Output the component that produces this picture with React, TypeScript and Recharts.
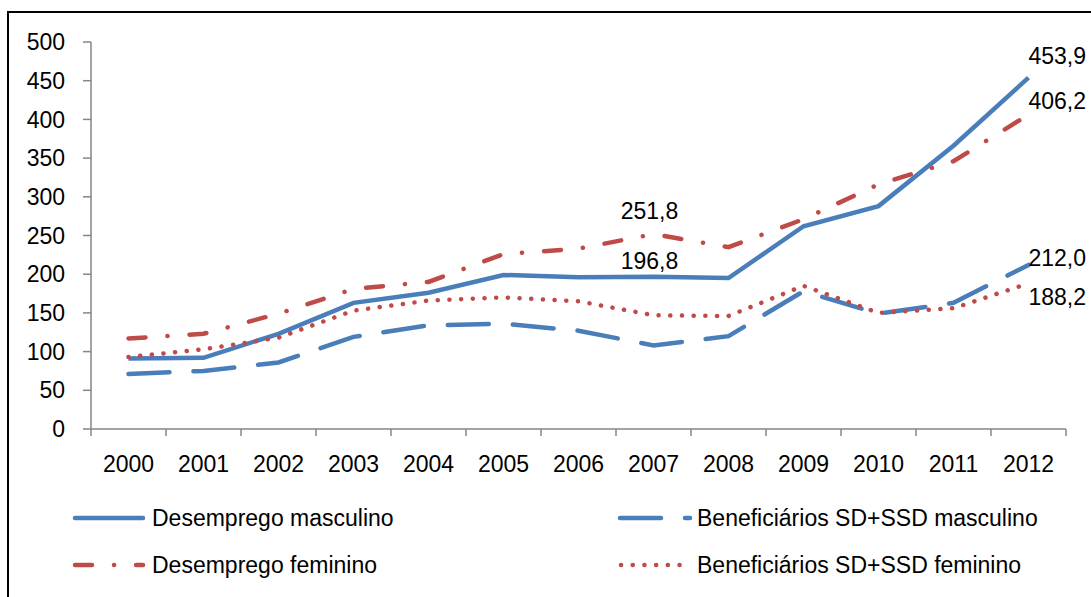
import { LineChart, Line, XAxis, YAxis, Legend, LabelList } from 'recharts';

const years = ['2000', '2001', '2002', '2003', '2004', '2005', '2006', '2007', '2008', '2009', '2010', '2011', '2012'];
const desempregoMasc = [91, 92, 123, 163, 176, 199, 196, 196.8, 195, 262, 288, 366, 453.9];
const beneficiariosMasc = [71, 75, 86, 119, 134, 136, 127, 108, 120, 178, 149, 163, 212.0];
const desempregoFem = [117, 123, 149, 181, 190, 226, 233, 251.8, 235, 271, 316, 346, 406.2];
const beneficiariosFem = [93, 103, 118, 153, 166, 170, 165, 147, 146, 185, 150, 156, 188.2];
const yTicks = [0, 50, 100, 150, 200, 250, 300, 350, 400, 450, 500];

const BLUE = '#4A7EBB';
const RED = '#BE4B48';
const AXIS = '#868686';
const FONT = '"Liberation Sans", Arial, sans-serif';
const FS = 23;

const W = 1091;
const H = 597;
const PLOT_LEFT = 91;
const PLOT_RIGHT = 1066;
const BAND = (PLOT_RIGHT - PLOT_LEFT) / years.length;

const DASH_LONG = '41 24';
const DASH_DOT = '17 22 0.1 22';
const DOTS = '0.1 11.6';

const data = years.map((year, i) => ({
  i,
  year,
  dm: desempregoMasc[i],
  bm: beneficiariosMasc[i],
  df: desempregoFem[i],
  bf: beneficiariosFem[i],
}));

const xTicks = [...years.map((_, k) => k - 0.5), years.length - 0.5];

const fmt = (v: number) => v.toFixed(1).replace('.', ',');

// only a few points carry a value label
const pointLabel = (marks: { idx: number; dx: number; dy: number; anchor: string }[]) => (props: any) => {
  const m = marks.find((k) => k.idx === props.index);
  if (!m) return null;
  return (
    <text
      x={props.x + m.dx}
      y={props.y + m.dy}
      textAnchor={m.anchor as any}
      fill="#000"
      fontSize={FS}
      fontFamily={FONT}
    >
      {fmt(Number(props.value))}
    </text>
  );
};

const YearTick = (props: any) => {
  const idx = Math.round(props.payload.value + 0.5);
  if (idx < 0 || idx >= years.length) return <g />;
  return (
    <text x={props.x + BAND / 2} y={props.y} dy={34} textAnchor="middle" fill="#000" fontSize={FS} fontFamily={FONT}>
      {years[idx]}
    </text>
  );
};

const legendItems = [
  { name: 'Desemprego masculino', color: BLUE, dash: undefined, x: 75, lx: 143, tx: 152, y: 29 },
  { name: 'Beneficiários SD+SSD masculino', color: BLUE, dash: DASH_LONG, x: 620, lx: 690, tx: 697, y: 29 },
  { name: 'Desemprego feminino', color: RED, dash: DASH_DOT, x: 75, lx: 143, tx: 152, y: 76 },
  { name: 'Beneficiários SD+SSD feminino', color: RED, dash: DOTS, x: 621, lx: 684, tx: 697, y: 76 },
];

const ChartLegend = () => (
  <svg width={W} height={108} style={{ display: 'block' }}>
    {legendItems.map((it) => (
      <g key={it.name}>
        <line
          x1={it.x}
          x2={it.lx}
          y1={it.y}
          y2={it.y}
          stroke={it.color}
          strokeWidth={4.5}
          strokeDasharray={it.dash}
          strokeLinecap="round"
        />
        <text x={it.tx} y={it.y + 8} fill="#000" fontSize={FS} fontFamily={FONT}>
          {it.name}
        </text>
      </g>
    ))}
  </svg>
);

export default function App() {
  return (
    <div style={{ position: 'fixed', left: 0, top: 0, width: W, height: H, overflow: 'hidden', background: '#fff' }}>
      <div
        style={{
          position: 'absolute',
          left: 7,
          top: 11,
          width: W + 20,
          height: H + 20,
          borderLeft: '2px solid #000',
          borderTop: '2px solid #000',
        }}
      />
      <div style={{ position: 'absolute', left: 0, top: 0 }}>
        <LineChart width={W} height={H} data={data} margin={{ top: 42, right: W - PLOT_RIGHT, bottom: 0, left: 0 }}>
          <XAxis
            type="number"
            dataKey="i"
            domain={[-0.5, years.length - 0.5]}
            ticks={xTicks}
            interval={0}
            height={60}
            stroke={AXIS}
            strokeWidth={1.5}
            tickSize={7}
            tick={<YearTick />}
          />
          <YAxis
            domain={[0, 500]}
            ticks={yTicks}
            interval={0}
            width={PLOT_LEFT}
            stroke={AXIS}
            strokeWidth={1.5}
            tickSize={8}
            tickMargin={18}
            tick={{ fill: '#000', fontSize: FS, fontFamily: FONT }}
          />
          <Legend
            verticalAlign="bottom"
            height={108}
            content={<ChartLegend />}
            wrapperStyle={{ left: 0, width: W }}
          />
          <Line
            dataKey="dm"
            name="Desemprego masculino"
            stroke={BLUE}
            strokeWidth={4.5}
            dot={false}
            isAnimationActive={false}
          >
            <LabelList
              dataKey="dm"
              content={pointLabel([
                { idx: 7, dx: -4, dy: -8, anchor: 'middle' },
                { idx: 12, dx: 0, dy: -14, anchor: 'start' },
              ])}
            />
          </Line>
          <Line
            dataKey="bm"
            name="Beneficiários SD+SSD masculino"
            stroke={BLUE}
            strokeWidth={4.5}
            strokeDasharray={DASH_LONG}
            strokeLinecap="round"
            dot={false}
            isAnimationActive={false}
          >
            <LabelList dataKey="bm" content={pointLabel([{ idx: 12, dx: 0, dy: 1, anchor: 'start' }])} />
          </Line>
          <Line
            dataKey="df"
            name="Desemprego feminino"
            stroke={RED}
            strokeWidth={4.5}
            strokeDasharray={DASH_DOT}
            strokeLinecap="round"
            dot={false}
            isAnimationActive={false}
          >
            <LabelList
              dataKey="df"
              content={pointLabel([
                { idx: 7, dx: -4, dy: -15, anchor: 'middle' },
                { idx: 12, dx: 0, dy: -6, anchor: 'start' },
              ])}
            />
          </Line>
          <Line
            dataKey="bf"
            name="Beneficiários SD+SSD feminino"
            stroke={RED}
            strokeWidth={4.5}
            strokeDasharray={DOTS}
            strokeLinecap="round"
            dot={false}
            isAnimationActive={false}
          >
            <LabelList dataKey="bf" content={pointLabel([{ idx: 12, dx: 0, dy: 22, anchor: 'start' }])} />
          </Line>
        </LineChart>
      </div>
    </div>
  );
}
